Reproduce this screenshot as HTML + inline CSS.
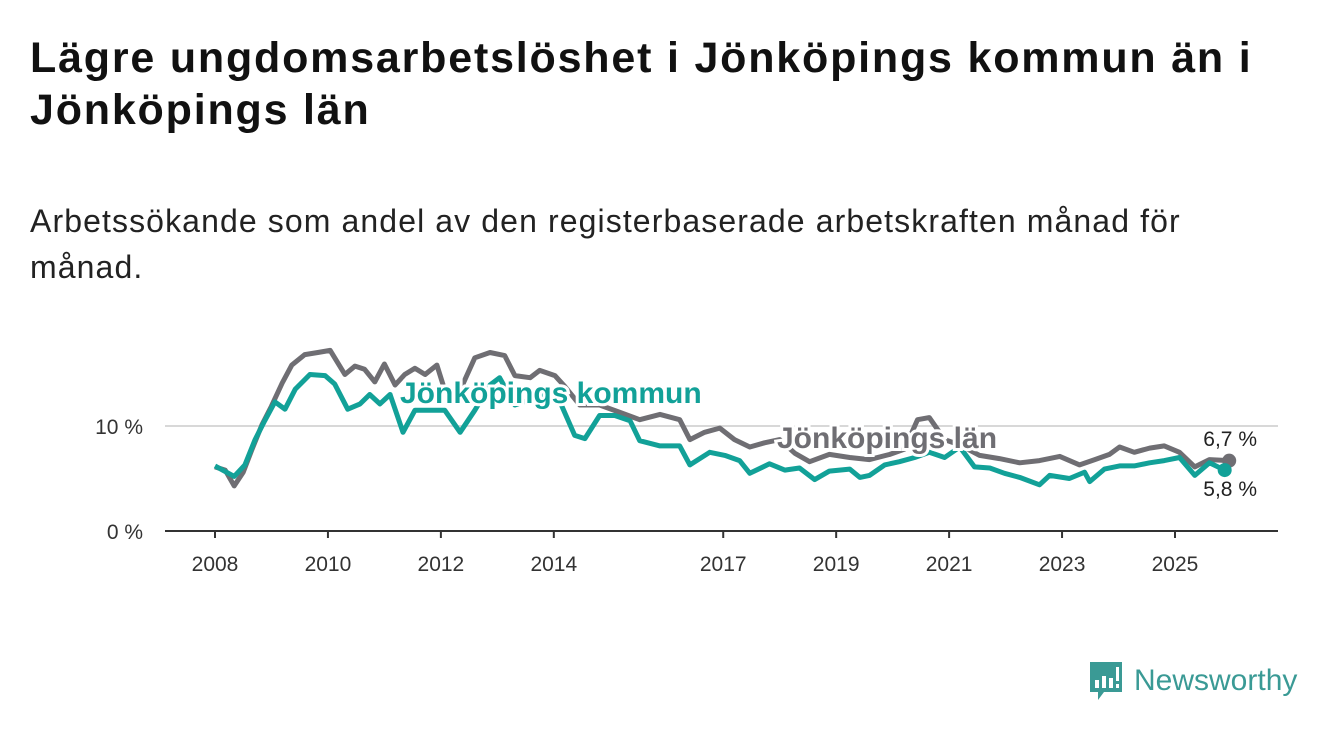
<!DOCTYPE html>
<html><head><meta charset="utf-8"><style>
body{margin:0;width:1340px;height:734px;background:#fff;font-family:"Liberation Sans","DejaVu Sans",sans-serif;overflow:hidden;position:relative}
h1{position:absolute;left:30px;top:32px;margin:0;font-size:43px;line-height:52px;font-weight:bold;color:#111;width:1270px;letter-spacing:1.8px}
.sub{position:absolute;left:30px;top:198px;font-size:32px;line-height:46px;color:#222;width:1220px;letter-spacing:1.1px}
svg{position:absolute;left:0;top:0}
</style></head><body>
<h1>Lägre ungdomsarbetslöshet i Jönköpings kommun än i Jönköpings län</h1>
<div class="sub">Arbetssökande som andel av den registerbaserade arbetskraften månad för månad.</div>
<svg id="chart" width="1340" height="734"></svg>
<div style="position:absolute;left:1088px;top:661px;height:40px;display:flex;align-items:center">
<svg width="36" height="42" style="position:static"><path d="M2 2h32v30H16l-6 8v-8H2z" fill="#3a9a95"/><rect x="7" y="20" width="4" height="8" fill="#fff"/><rect x="14" y="16" width="4" height="12" fill="#fff"/><rect x="21" y="18" width="4" height="10" fill="#fff"/><rect x="28" y="7" width="3" height="14" fill="#fff"/><rect x="28" y="24" width="3" height="4" fill="#fff"/></svg>
<span style="font-size:30px;color:#3a9a95;margin-left:10px;font-weight:500">Newsworthy</span></div>
<script>
const tickYears=[2008,2010,2012,2014,2017,2019,2021,2023,2025];
const yTicks=[0,10];
const lanDates=[2008.0,2008.18,2008.34,2008.5,2008.65,2008.83,2009.0,2009.19,2009.36,2009.59,2009.82,2010.04,2010.3,2010.48,2010.65,2010.83,2011.0,2011.19,2011.36,2011.54,2011.72,2011.93,2012.07,2012.34,2012.6,2012.87,2013.13,2013.31,2013.58,2013.75,2014.02,2014.19,2014.46,2014.81,2015.17,2015.52,2015.88,2016.23,2016.41,2016.67,2016.94,2017.2,2017.47,2017.73,2018.0,2018.27,2018.53,2018.88,2019.24,2019.59,2019.95,2020.21,2020.44,2020.65,2020.92,2021.19,2021.54,2021.89,2022.25,2022.6,2022.96,2023.31,2023.58,2023.84,2024.02,2024.28,2024.55,2024.81,2025.08,2025.35,2025.61,2025.96];
const lanValues=[6.1,5.8,4.3,5.6,7.7,10.1,11.9,14.1,15.8,16.8,17.0,17.2,14.9,15.7,15.4,14.2,15.9,13.9,14.9,15.5,14.9,15.8,13.4,13.4,16.5,17.0,16.7,14.8,14.6,15.3,14.8,13.8,12.0,12.0,11.3,10.6,11.1,10.6,8.7,9.4,9.8,8.7,8.0,8.4,8.7,7.4,6.6,7.3,7.0,6.8,7.3,7.8,10.6,10.8,8.7,8.2,7.2,6.9,6.5,6.7,7.1,6.3,6.8,7.3,8.0,7.5,7.9,8.1,7.5,6.1,6.8,6.7];
const komDates=[2008.0,2008.34,2008.53,2008.71,2008.88,2009.06,2009.24,2009.42,2009.68,2009.95,2010.12,2010.35,2010.57,2010.74,2010.92,2011.1,2011.33,2011.54,2011.81,2012.07,2012.34,2012.6,2012.87,2013.04,2013.31,2013.58,2013.84,2014.11,2014.37,2014.55,2014.81,2015.08,2015.35,2015.52,2015.88,2016.23,2016.41,2016.76,2017.03,2017.29,2017.47,2017.82,2018.09,2018.35,2018.62,2018.88,2019.24,2019.42,2019.59,2019.86,2020.12,2020.39,2020.65,2020.92,2021.19,2021.45,2021.72,2021.98,2022.25,2022.6,2022.78,2023.13,2023.4,2023.49,2023.75,2024.02,2024.28,2024.55,2024.81,2025.08,2025.35,2025.61,2025.88];
const komValues=[6.2,5.2,6.3,8.7,10.5,12.3,11.6,13.5,14.9,14.8,14.0,11.6,12.1,13.0,12.1,13.0,9.4,11.5,11.5,11.5,9.4,11.5,13.9,14.6,12.0,12.5,13.0,12.3,9.1,8.8,11.0,11.0,10.5,8.6,8.1,8.1,6.3,7.5,7.2,6.7,5.5,6.4,5.8,6.0,4.9,5.7,5.9,5.1,5.3,6.3,6.6,7.0,7.5,7.0,8.0,6.1,6.0,5.5,5.1,4.4,5.3,5.0,5.6,4.7,5.9,6.2,6.2,6.5,6.7,7.0,5.3,6.5,5.8];
const NS='http://www.w3.org/2000/svg';
const svg=document.getElementById('chart');
const X=y=>215+(y-2008)*56.47;
const Y=v=>531-v*10.5;
function mk(t,a,p){const e=document.createElementNS(NS,t);for(const k in a)e.setAttribute(k,a[k]);(p||svg).appendChild(e);return e;}
yTicks.forEach(v=>{
 if(v>0){const g=mk('line',{x1:165,x2:1278,y1:Y(v),y2:Y(v),stroke:'#d8d8d8','stroke-width':2});
 
 }
 const t=mk('text',{x:143,y:Y(v)+8,'text-anchor':'end','font-size':21,fill:'#333'});t.textContent=v+' %';
 
 
});
const ax=mk('line',{x1:165,x2:1278,y1:531,y2:531,stroke:'#333','stroke-width':2});


tickYears.forEach(yr=>{
 const tk=mk('line',{x1:X(yr),x2:X(yr),y1:531,y2:538,stroke:'#333','stroke-width':2});
 
 
 const t=mk('text',{x:X(yr),y:571,'text-anchor':'middle','font-size':21,fill:'#333'});t.textContent=yr;
 
 
});
function line(d,v,c,name){
 const p=mk('path',{d:d.map((x,i)=>(i?'L':'M')+X(x).toFixed(1)+','+Y(v[i]).toFixed(1)).join(''),fill:'none',stroke:c,'stroke-width':5,'stroke-linejoin':'round'});
 
 
 const n=d.length-1;
 const c2=mk('circle',{cx:X(d[n]),cy:Y(v[n]),r:7,fill:c});
 
 
}
line(lanDates,lanValues,'#6f6e73','lan-line');
line(komDates,komValues,'#12a198','kommun-line');
function lab(x,y,s,c,name,size,bold,anchor){
 const t=mk('text',{x:x,y:y,'font-size':size,'font-weight':bold?'bold':'normal',fill:c,stroke:'#fff','stroke-width':bold?6:4,'paint-order':'stroke','text-anchor':anchor||'start'});
 t.textContent=s;
 
 
}
lab(400,403,'Jönköpings kommun','#12a198','kommun-label',30,true);
lab(777,448,'Jönköpings län','#6f6e73','lan-label',30,true);
lab(1257,446,'6,7 %','#222','lan-end-value',21,false,'end');
lab(1257,496,'5,8 %','#222','kommun-end-value',21,false,'end');
</script>
</body></html>
